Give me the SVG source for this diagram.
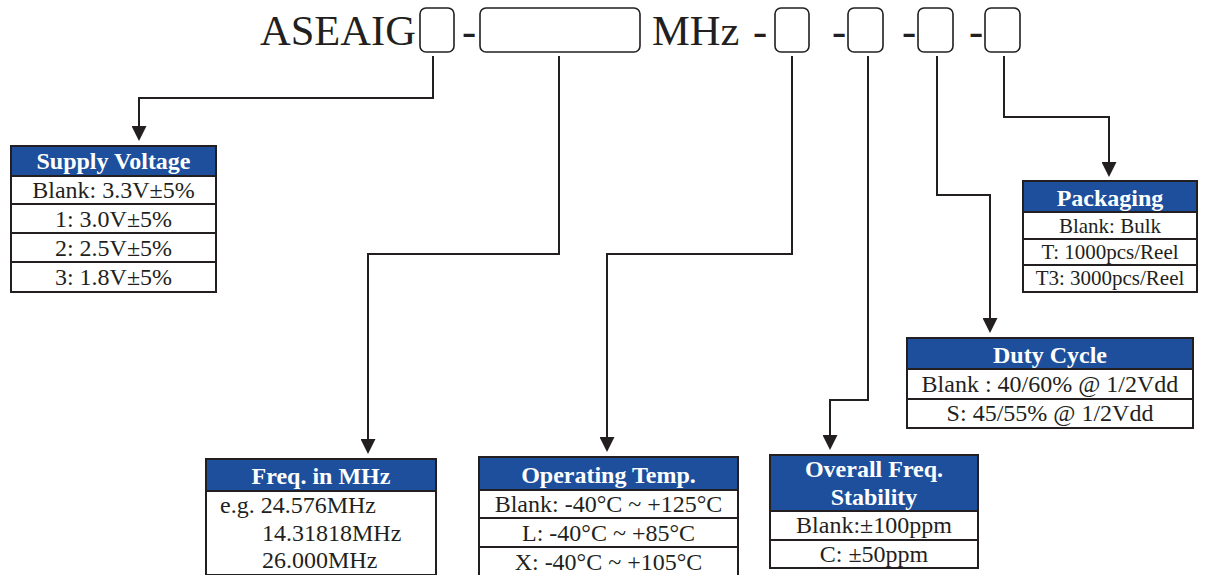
<svg xmlns="http://www.w3.org/2000/svg" width="1211" height="575" viewBox="0 0 1211 575">
<style>
.t{font-family:"Liberation Serif","Times New Roman",serif;fill:#231f20}
.title{font-size:42.5px}
.slot{fill:#fff;stroke:#231f20;stroke-width:1.6}
.box{fill:#fff;stroke:#231f20;stroke-width:2}
.hdr{fill:#1d4f9c}
.sep{stroke:#231f20;stroke-width:2}
.h{font-family:"Liberation Serif","Times New Roman",serif;font-weight:bold;font-size:24px;fill:#fff;text-anchor:middle}
.b{font-family:"Liberation Serif","Times New Roman",serif;font-size:24px;fill:#231f20;text-anchor:middle}
.bs{font-size:21px}
.c{fill:none;stroke:#231f20;stroke-width:2}
</style>
<defs>
<marker id="ah" markerUnits="userSpaceOnUse" markerWidth="15" markerHeight="15" refX="4" refY="7.5" orient="auto" viewBox="0 0 15 15">
<path d="M0,0 L15,7.5 L0,15 Z" fill="#231f20"/>
</marker>
</defs>

<g id="partnumber">
<text class="t title" x="260" y="45">ASEAIG</text>
<rect class="slot" x="420" y="8" width="34" height="44" rx="6"/>
<text class="t title" x="462" y="45">-</text>
<rect class="slot" x="480" y="8" width="160" height="44" rx="6"/>
<text class="t title" x="652" y="45">MHz</text>
<text class="t title" x="753" y="45">-</text>
<rect class="slot" x="775" y="8" width="34" height="44" rx="6"/>
<text class="t title" x="832" y="45">-</text>
<rect class="slot" x="848" y="8" width="35" height="44" rx="6"/>
<text class="t title" x="902" y="45">-</text>
<rect class="slot" x="918" y="8" width="35" height="44" rx="6"/>
<text class="t title" x="969" y="45">-</text>
<rect class="slot" x="985" y="8" width="35" height="44" rx="6"/>
</g>

<g id="connectors">
<path class="c" d="M433,56 V98 H139 V130" marker-end="url(#ah)"/>
<path class="c" d="M559,56 V254 H368 V443" marker-end="url(#ah)"/>
<path class="c" d="M792,56 V254 H607 V441" marker-end="url(#ah)"/>
<path class="c" d="M868,56 V400 H830 V439" marker-end="url(#ah)"/>
<path class="c" d="M937,56 V195 H990 V322" marker-end="url(#ah)"/>
<path class="c" d="M1004,56 V117 H1109 V166" marker-end="url(#ah)"/>
</g>

<g id="supply-voltage">
<rect class="box" x="11" y="146" width="205" height="146"/>
<rect class="hdr" x="12" y="147" width="203" height="29"/>
<line class="sep" x1="11" y1="176" x2="216" y2="176"/>
<line class="sep" x1="11" y1="204" x2="216" y2="204"/>
<line class="sep" x1="11" y1="233" x2="216" y2="233"/>
<line class="sep" x1="11" y1="262" x2="216" y2="262"/>
<text class="h" x="113.5" y="169">Supply Voltage</text>
<text class="b" x="113.5" y="198">Blank: 3.3V±5%</text>
<text class="b" x="113.5" y="227">1: 3.0V±5%</text>
<text class="b" x="113.5" y="256">2: 2.5V±5%</text>
<text class="b" x="113.5" y="285">3: 1.8V±5%</text>
</g>

<g id="freq">
<rect class="box" x="206" y="459" width="230" height="116"/>
<rect class="hdr" x="207" y="460" width="228" height="31"/>
<line class="sep" x1="206" y1="491" x2="436" y2="491"/>
<text class="h" x="321" y="484">Freq. in MHz</text>
<text class="b" x="220" y="513" style="text-anchor:start">e.g. 24.576MHz</text>
<text class="b" x="262" y="541" style="text-anchor:start">14.31818MHz</text>
<text class="b" x="262" y="568" style="text-anchor:start">26.000MHz</text>
</g>

<g id="operating-temp">
<rect class="box" x="479" y="457" width="259" height="120"/>
<rect class="hdr" x="480" y="458" width="257" height="32"/>
<line class="sep" x1="479" y1="490" x2="738" y2="490"/>
<line class="sep" x1="479" y1="518" x2="738" y2="518"/>
<line class="sep" x1="479" y1="547" x2="738" y2="547"/>
<text class="h" x="608.5" y="483">Operating Temp.</text>
<text class="b" x="608.5" y="512">Blank: -40°C ~ +125°C</text>
<text class="b" x="608.5" y="541">L: -40°C ~ +85°C</text>
<text class="b" x="608.5" y="570">X: -40°C ~ +105°C</text>
</g>

<g id="stability">
<rect class="box" x="770" y="455" width="208" height="113"/>
<rect class="hdr" x="771" y="456" width="206" height="55"/>
<line class="sep" x1="770" y1="511" x2="978" y2="511"/>
<line class="sep" x1="770" y1="540" x2="978" y2="540"/>
<text class="h" x="874" y="477">Overall Freq.</text>
<text class="h" x="874" y="505">Stability</text>
<text class="b" x="874" y="533">Blank:±100ppm</text>
<text class="b" x="874" y="562">C: ±50ppm</text>
</g>

<g id="duty-cycle">
<rect class="box" x="907" y="338" width="286" height="90"/>
<rect class="hdr" x="908" y="339" width="284" height="30"/>
<line class="sep" x1="907" y1="369" x2="1193" y2="369"/>
<line class="sep" x1="907" y1="399" x2="1193" y2="399"/>
<text class="h" x="1050" y="363">Duty Cycle</text>
<text class="b" x="1050" y="392">Blank : 40/60% @ 1/2Vdd</text>
<text class="b" x="1050" y="421">S: 45/55% @ 1/2Vdd</text>
</g>

<g id="packaging">
<rect class="box" x="1023" y="181" width="174" height="111"/>
<rect class="hdr" x="1024" y="182" width="172" height="30"/>
<line class="sep" x1="1023" y1="212" x2="1197" y2="212"/>
<line class="sep" x1="1023" y1="239" x2="1197" y2="239"/>
<line class="sep" x1="1023" y1="265" x2="1197" y2="265"/>
<text class="h" x="1110" y="206">Packaging</text>
<text class="b bs" x="1110" y="233">Blank: Bulk</text>
<text class="b bs" x="1110" y="259">T: 1000pcs/Reel</text>
<text class="b bs" x="1110" y="285">T3: 3000pcs/Reel</text>
</g>
</svg>
